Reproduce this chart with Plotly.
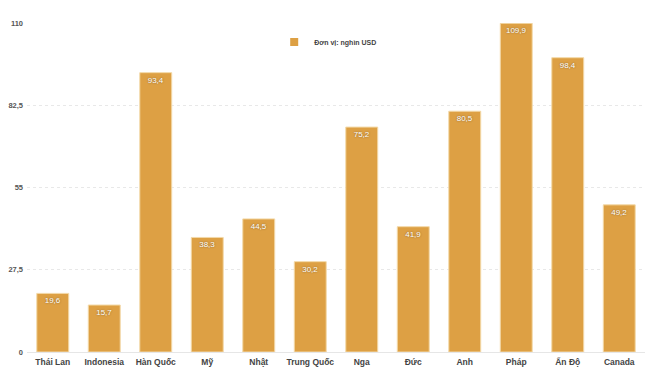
import plotly.graph_objects as go

countries = ["Thái Lan", "Indonesia", "Hàn Quốc", "Mỹ", "Nhật", "Trung Quốc",
             "Nga", "Đức", "Anh", "Pháp", "Ấn Độ", "Canada"]
values = [19.6, 15.7, 93.4, 38.3, 44.5, 30.2, 75.2, 41.9, 80.5, 109.9, 98.4, 49.2]
value_labels = ["19,6", "15,7", "93,4", "38,3", "44,5", "30,2", "75,2", "41,9",
                "80,5", "109,9", "98,4", "49,2"]
y_ticks = [0, 27.5, 55, 82.5, 110]
y_tick_labels = ["0", "27,5", "55", "82,5", "110"]
series_name = "Đơn vị: nghìn USD"

bar_color = "#DDA044"
FONT = "Liberation Sans, Arial"

fig = go.Figure()
fig.add_trace(go.Bar(
    x=countries, y=values, name=series_name, showlegend=False,
    marker=dict(color=bar_color, line=dict(color="#F3D9A8", width=1)),
    text=value_labels, textposition="inside", insidetextanchor="end",
    textfont=dict(color="white", size=8, family=FONT,
                  shadow="0px 0px 2px rgba(0,0,0,0.45)"),
    textangle=0, cliponaxis=False,
))
fig.add_trace(go.Scatter(
    x=[None], y=[None], mode="markers", name=series_name, showlegend=True,
    marker=dict(symbol="square", size=8, color=bar_color),
))

# page body has an 8px margin; compensate so the plot area lands where the reference has it
fig.update_layout(
    width=670, height=385,
    margin=dict(l=19, r=33, t=15, b=41),
    paper_bgcolor="white", plot_bgcolor="white",
    bargap=0.38,
    showlegend=True,
    legend=dict(orientation="h", x=0.40, y=0.942, xanchor="left", yanchor="middle",
                font=dict(size=7, color="#444", family=FONT, weight="bold"),
                bgcolor="rgba(0,0,0,0)", itemwidth=30),
    font=dict(family=FONT),
    uniformtext=dict(minsize=7, mode="show"),
)
fig.update_xaxes(
    showgrid=False, showline=True, linecolor="#E6E6E6", linewidth=1,
    tickfont=dict(size=8.5, color="#444", family=FONT, weight="bold"),
    ticks="", ticklabelstandoff=2, automargin=False,
)
fig.update_yaxes(
    range=[0, 110], tickvals=y_ticks, ticktext=y_tick_labels,
    showgrid=True, gridcolor="#E8E8E8", griddash="dot", gridwidth=1,
    zeroline=False, showline=False,
    tickfont=dict(size=7.5, color="#555", family=FONT, weight="bold"),
    ticks="", ticklabelstandoff=3, automargin=False,
)

fig.write_html("out.html")
